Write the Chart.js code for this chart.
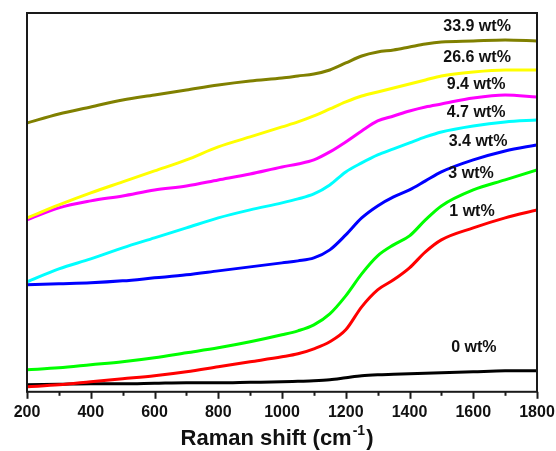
<!DOCTYPE html>
<html>
<head>
<meta charset="utf-8">
<script src="https://cdn.jsdelivr.net/npm/chart.js@4.4.1/dist/chart.umd.min.js"></script>
<style>
    html, body { margin: 0; padding: 0; background: #fff; }
    #wrap { width: 556px; height: 451px; }
</style>
</head>
<body>
<div id="wrap"><canvas id="chart"></canvas></div>
<script>
// raman shift (cm-1)
const SHIFT = [200, 300, 400, 500, 600, 700, 800, 900, 1000, 1050, 1100, 1150,
               1200, 1250, 1300, 1350, 1400, 1450, 1500, 1600, 1700, 1800];

// intensity (a.u.), offset traces
const WT_33_9 = [269, 278, 285, 292, 297, 302, 307, 311, 314, 316, 318, 322,
                 329, 336, 340, 342, 345, 348, 350, 351, 352, 351];
const WT_26_6 = [174, 187, 199, 210, 221, 232, 245, 255, 265, 270, 276, 283,
                 290, 296, 300, 304, 308, 312, 316, 320, 322, 322];
const WT_9_4 = [172, 184, 191, 196, 202, 206, 212, 218, 225, 228, 232, 240,
                250, 261, 271, 276, 281, 285, 288, 294, 297, 295];
const WT_4_7 = [110, 123, 133, 144, 154, 164, 174, 182, 189, 193, 198, 207,
                220, 229, 237, 243, 249, 255, 260, 266, 270, 272];
const WT_3_4 = [107, 108, 109, 111, 114, 117, 121, 125, 129, 131, 134, 142,
                157, 174, 186, 195, 202, 211, 220, 232, 241, 247];
const WT_3 = [22, 24, 27, 30, 34, 39, 44, 50, 57, 61, 67, 78,
              96, 118, 136, 147, 156, 172, 186, 202, 212, 222];
const WT_1 = [5, 7, 10, 13, 16, 20, 25, 30, 35, 38, 43, 50,
              62, 85, 102, 112, 124, 140, 152, 164, 174, 182];
const WT_0 = [7, 7.5, 8, 8, 8.5, 9, 9, 9.5, 10, 10.5, 11, 12,
              14, 16, 17, 17.5, 18, 18.5, 19, 20, 21, 21];

const SERIES = ["33.9 wt%", "26.6 wt%", "9.4 wt%", "4.7 wt%", "3.4 wt%", "3 wt%", "1 wt%", "0 wt%"];
const VALUES = [WT_33_9, WT_26_6, WT_9_4, WT_4_7, WT_3_4, WT_3, WT_1, WT_0];

// where each trace label sits, in data units (shift, intensity)
const LABEL_X = [1612, 1612, 1609, 1609, 1615, 1593, 1596, 1602];
const LABEL_Y = [365, 334, 307, 279, 250, 218, 180, 44];

const COLORS = [
    "#808000", // olive
    "#FFFF00", // yellow
    "#FF00FF", // magenta
    "#00FFFF", // cyan
    "#0000FF", // blue
    "#00FF00", // green
    "#FF0000", // red
    "#000000", // black
];

const FONT = "'Liberation Sans', Arial, sans-serif";

// frame, tick marks, trace labels and axis title
const decorations = {
    id: "decorations",
    afterDraw(chart) {
        const ctx = chart.ctx;
        const area = chart.chartArea;
        const x = chart.scales.x;
        const y = chart.scales.y;

        ctx.save();

        // box round the plot
        ctx.strokeStyle = "#1a1a1a";
        ctx.lineWidth = 2;
        ctx.strokeRect(area.left, area.top, area.right - area.left, area.bottom - area.top);

        // major and minor ticks, pointing out
        for (let v = 200; v <= 1800; v += 100) {
            const px = Math.round(x.getPixelForValue(v)) + 0.5;
            const len = v % 200 === 0 ? 7 : 4;
            ctx.beginPath();
            ctx.moveTo(px, area.bottom);
            ctx.lineTo(px, area.bottom + len);
            ctx.stroke();
        }

        // trace labels
        ctx.fillStyle = "#111";
        ctx.font = "bold 16px " + FONT;
        ctx.textAlign = "center";
        ctx.textBaseline = "middle";
        for (let i = 0; i < SERIES.length; i++) {
            ctx.fillText(SERIES[i], x.getPixelForValue(LABEL_X[i]), y.getPixelForValue(LABEL_Y[i]));
        }

        // axis title with a superscript
        const main = "Raman shift (cm";
        const sup = "-1";
        const end = ")";
        ctx.textAlign = "left";
        ctx.textBaseline = "alphabetic";
        ctx.font = "bold 22px " + FONT;
        const w1 = ctx.measureText(main).width;
        const w3 = ctx.measureText(end).width;
        ctx.font = "bold 14px " + FONT;
        const w2 = ctx.measureText(sup).width;
        const total = w1 + w2 + 2 + w3;
        const cx = (area.left + area.right) / 2 - 5;
        let tx = cx - total / 2;
        const base = 445;
        ctx.font = "bold 22px " + FONT;
        ctx.fillText(main, tx, base);
        tx += w1 + 1;
        ctx.font = "bold 14px " + FONT;
        ctx.fillText(sup, tx, base - 10);
        tx += w2 + 1;
        ctx.font = "bold 22px " + FONT;
        ctx.fillText(end, tx, base);

        ctx.restore();
    }
};

function main() {
    Chart.defaults.font.family = FONT;
    Chart.defaults.color = "#111";

    const datasets = [];
    for (let i = 0; i < SERIES.length; i++) {
        datasets.push({
            label: SERIES[i],
            data: SHIFT.map((s, j) => ({ x: s, y: VALUES[i][j] })),
            borderColor: COLORS[i],
            borderWidth: 3,
            pointRadius: 0,
            cubicInterpolationMode: "monotone",
            fill: false
        });
    }

    new Chart(document.getElementById("chart").getContext("2d"), {
        type: "line",
        data: { datasets: datasets },
        options: {
            responsive: true,
            maintainAspectRatio: false,
            animation: false,
            layout: {
                padding: { left: 27, right: 19, top: 13, bottom: 18 }
            },
            plugins: {
                legend: { display: false },
                tooltip: { enabled: false }
            },
            scales: {
                x: {
                    type: "linear",
                    min: 200,
                    max: 1800,
                    grid: { display: false, drawTicks: false },
                    border: { display: false },
                    ticks: {
                        stepSize: 200,
                        padding: 11,
                        maxRotation: 0,
                        color: "#111",
                        font: { size: 16, weight: "bold" },
                        callback: (v) => String(v)
                    },
                    // let the end labels hang past the plot edges
                    afterFit(scale) {
                        scale.paddingLeft = 0;
                        scale.paddingRight = 0;
                    }
                },
                y: {
                    display: false,
                    min: 0,
                    max: 379
                }
            }
        },
        plugins: [decorations]
    });
}

main();
</script>
</body>
</html>
